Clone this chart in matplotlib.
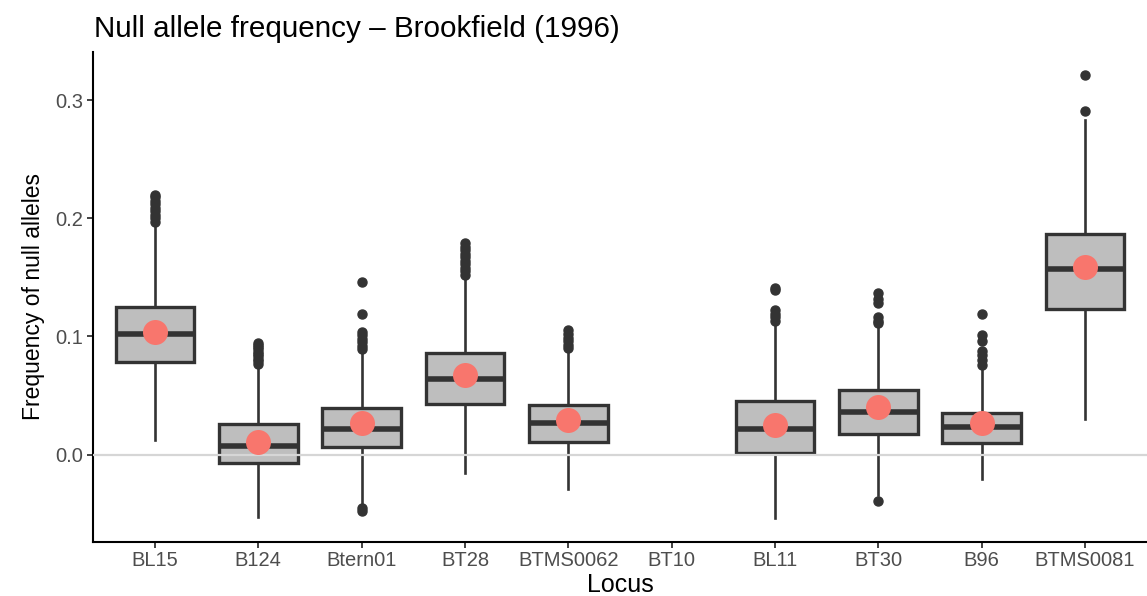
import matplotlib
matplotlib.use("Agg")
import matplotlib.pyplot as plt

# locus order on the x axis (BT10 has no data)
loci = ["BL15", "B124", "Btern01", "BT28", "BTMS0062", "BT10", "BL11", "BT30", "B96", "BTMS0081"]

# box statistics (None = no box)
whislo = [0.012, -0.053, -0.041, -0.016, -0.029, None, -0.054, -0.034, -0.021, 0.030]
q1 = [0.078, -0.007, 0.006, 0.043, 0.011, None, 0.0015, 0.017, 0.010, 0.123]
med = [0.102, 0.007, 0.022, 0.064, 0.027, None, 0.022, 0.036, 0.0235, 0.157]
q3 = [0.125, 0.026, 0.039, 0.086, 0.042, None, 0.045, 0.055, 0.035, 0.187]
whishi = [0.195, 0.075, 0.087, 0.150, 0.088, None, 0.111, 0.109, 0.0715, 0.283]
means = [0.104, 0.011, 0.027, 0.067, 0.029, None, 0.025, 0.040, 0.027, 0.159]
outliers = [
    [0.197, 0.200, 0.203, 0.206, 0.209, 0.212, 0.215, 0.218, 0.220],
    [0.077, 0.079, 0.081, 0.083, 0.085, 0.087, 0.089, 0.091, 0.093, 0.094],
    [0.089, 0.092, 0.095, 0.098, 0.101, 0.104, 0.119, 0.146, -0.045, -0.048],
    [0.152, 0.155, 0.158, 0.161, 0.164, 0.167, 0.170, 0.173, 0.176, 0.179],
    [0.090, 0.093, 0.096, 0.099, 0.102, 0.105],
    [],
    [0.113, 0.116, 0.119, 0.122, 0.139, 0.141],
    [0.111, 0.113, 0.116, 0.128, 0.132, 0.137, -0.039],
    [0.076, 0.080, 0.084, 0.088, 0.096, 0.101, 0.119],
    [0.291, 0.321],
]

edge = "#333333"
fig = plt.figure(figsize=(11.47, 5.96), dpi=100)
ax = fig.add_axes([0.081, 0.091, 0.919, 0.822])

stats = []
pos = []
for i in range(len(loci)):
    if med[i] is None:
        continue
    stats.append({"whislo": whislo[i], "q1": q1[i], "med": med[i], "q3": q3[i],
                  "whishi": whishi[i], "fliers": outliers[i]})
    pos.append(i + 1)

ax.bxp(stats, positions=pos, widths=0.76, patch_artist=True, showcaps=False,
       boxprops=dict(facecolor="#bebebe", edgecolor=edge, linewidth=2.4),
       medianprops=dict(color=edge, linewidth=4.0, solid_capstyle="butt"),
       whiskerprops=dict(color=edge, linewidth=1.9),
       flierprops=dict(marker="o", markerfacecolor=edge, markeredgecolor=edge, markersize=6.5))

mx = [i + 1 for i in range(len(loci)) if means[i] is not None]
my = [m for m in means if m is not None]
ax.plot(mx, my, "o", color="#F8766D", markersize=18, markeredgewidth=0, zorder=5)

ax.axhline(0, color="#d6d6d6", linewidth=1.6, zorder=4)

ax.set_xlim(0.4, 10.6)
ax.set_ylim(-0.0738, 0.3408)
ax.set_xticks(range(1, len(loci) + 1))
ax.set_xticklabels(loci)
ax.set_yticks([0.0, 0.1, 0.2, 0.3])
ax.set_yticklabels(["0.0", "0.1", "0.2", "0.3"])

for s in ["top", "right"]:
    ax.spines[s].set_visible(False)
for s in ["left", "bottom"]:
    ax.spines[s].set_linewidth(1.5)
    ax.spines[s].set_color("black")
ax.tick_params(axis="both", length=4, width=1.3, color="#333333", labelcolor="#4d4d4d",
               labelsize=14.5, pad=3)
for lab in ax.get_xticklabels() + ax.get_yticklabels():
    lab.set_family("Liberation Sans")

ax.set_xlabel("Locus", fontsize=18, family="Liberation Sans", labelpad=2)
ax.set_ylabel("Frequency of null alleles", fontsize=16.5, family="Liberation Sans", labelpad=7)
fig.text(0.082, 0.951, "Null allele frequency \u2013 Brookfield (1996)", fontsize=21.3,
         family="Liberation Sans", ha="left", va="center")

fig.savefig("out.png", dpi=100)
